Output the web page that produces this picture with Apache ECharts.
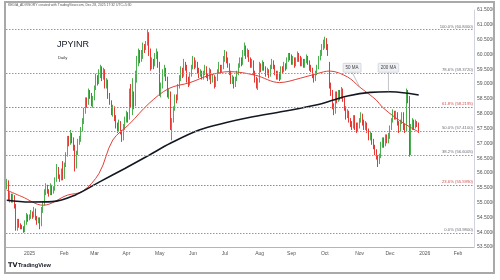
<!DOCTYPE html>
<html><head><meta charset="utf-8">
<script src="https://cdn.jsdelivr.net/npm/echarts@6/dist/echarts.min.js"></script>
<style>
html,body{margin:0;padding:0;background:#fff;}
#c{position:absolute;left:0;top:0;width:500px;height:280px;}
#frame{position:absolute;left:4px;top:1px;width:487px;height:269px;border:2px solid #a9a9a9;pointer-events:none;}
</style></head><body>
<div id="c"></div><div id="frame"></div>
<script>
// ---- categories: trading days (weekdays) from 11 Dec 2024 into Feb 2026 ----
const categories = [];
for (let t = Date.UTC(2024, 11, 11); categories.length < 309; t += 86400000) {
  const d = new Date(t), wd = d.getUTCDay();
  if (wd === 0 || wd === 6) continue;
  categories.push(d.toISOString().slice(0, 10));
}
const monthNames = ['Jan','Feb','Mar','Apr','May','Jun','Jul','Aug','Sep','Oct','Nov','Dec'];

// ---- daily candles [open, close, low, high] ----
const ohlc = [
[55.55,55.70,55.45,55.80],[55.70,55.15,55.05,55.75],[55.15,55.25,55.00,55.35],[55.25,55.10,55.00,55.30],[55.10,55.20,55.00,55.30],
[55.20,54.90,54.80,55.25],[54.90,54.15,54.05,54.95],[54.15,54.35,54.05,54.45],[54.35,54.25,54.15,54.45],[54.25,54.20,54.10,54.30],
[54.20,54.15,54.10,54.25],[54.15,54.05,53.98,54.20],[54.05,54.30,54.00,54.40],[54.30,54.55,54.25,54.65],[54.55,54.45,54.35,54.60],
// Jan 2025
[54.45,54.50,54.40,54.60],[54.50,54.65,54.45,54.75],[54.65,54.55,54.45,54.70],[54.55,54.75,54.50,54.85],[54.75,54.50,54.40,54.80],
[54.50,54.35,54.25,54.55],[54.35,54.40,54.30,54.50],[54.40,54.25,54.10,54.50],[54.25,54.70,54.20,54.85],[54.70,54.95,54.65,55.05],
[54.95,55.35,54.90,55.45],[55.35,55.55,55.25,55.65],[55.55,55.40,55.30,55.60],[55.40,55.30,55.20,55.45],[55.30,55.55,55.25,55.65],
[55.55,55.35,55.25,55.60],[55.35,55.45,55.30,55.55],[55.45,55.75,55.40,55.85],[55.75,56.15,55.70,56.30],[56.15,55.90,55.80,56.20],
[55.90,55.80,55.70,55.95],[55.80,56.05,55.75,56.15],[56.05,55.85,55.75,56.40],
// Feb
[55.85,56.25,55.80,56.35],[56.25,56.60,56.20,56.70],[56.60,57.15,56.55,57.25],[57.15,57.00,56.90,57.25],[57.00,57.30,56.95,57.45],
[57.30,57.10,57.00,57.35],[57.10,56.85,56.75,57.20],[56.85,56.20,56.05,56.95],[56.20,56.65,56.15,56.75],[56.65,57.05,56.60,57.15],
[57.05,57.15,56.95,57.25],[57.15,57.45,57.05,57.55],[57.45,57.70,57.40,57.85],[57.70,58.10,57.65,58.20],[58.10,58.45,58.00,58.55],
[58.45,58.35,58.20,58.55],[58.35,58.75,58.30,58.85],[58.75,58.65,58.50,58.80],[58.65,58.35,58.25,58.70],[58.35,58.50,58.20,58.60],
// Mar
[58.50,58.85,58.45,58.95],[58.85,59.20,58.80,59.35],[59.20,59.05,58.95,59.30],[59.05,59.35,59.00,59.50],[59.35,59.50,59.20,59.65],
[59.50,59.25,59.10,59.60],[59.25,59.45,59.15,59.55],[59.45,58.95,58.85,59.50],[58.95,59.10,58.85,59.20],[59.10,58.60,58.50,59.15],
[58.60,58.40,58.30,58.70],[58.40,58.05,57.95,58.45],[58.05,58.20,57.90,58.30],[58.20,57.85,57.75,58.25],[57.85,57.60,57.50,57.95],
[57.60,57.45,57.35,57.70],[57.45,57.70,57.40,57.80],[57.70,57.40,57.30,57.75],[57.40,57.15,57.05,57.45],[57.15,57.55,57.10,57.65],
[57.55,57.80,57.45,57.90],
// Apr
[57.80,57.95,57.70,58.10],[57.95,57.85,57.70,58.05],[57.85,58.65,57.80,58.85],[58.65,58.40,58.20,59.00],[58.40,58.55,57.95,59.20],
[58.55,58.35,58.15,58.75],[58.35,59.15,58.25,59.45],[59.15,59.75,59.05,59.95],[59.75,60.05,59.60,60.20],[60.05,59.85,59.70,60.15],
[59.85,60.00,59.75,60.15],[60.00,60.25,59.85,60.40],[60.25,60.20,60.05,60.35],[60.20,60.35,60.15,60.45],[60.35,60.65,60.30,60.84],
[60.65,60.10,59.95,60.75],[60.10,59.55,59.45,60.20],[59.55,59.80,59.50,59.90],[59.80,59.65,59.50,59.85],[59.65,59.95,59.60,60.05],
[59.95,60.05,59.85,60.20],[60.05,59.70,59.55,60.10],
// May
[59.70,58.75,58.60,59.75],[58.75,58.90,58.55,59.05],[58.90,59.35,58.85,59.50],[59.35,59.50,59.25,59.65],[59.50,59.20,59.10,59.55],
[59.20,58.65,58.55,59.25],[58.65,58.70,58.50,58.85],[58.70,57.55,57.45,58.75],[57.55,57.75,57.10,57.85],[57.75,58.15,57.70,58.25],
[58.15,58.55,58.10,58.65],[58.55,58.50,58.35,58.65],[58.50,58.90,58.45,59.00],[58.90,59.20,58.85,59.30],[59.20,59.45,59.10,59.60],
[59.45,59.30,59.20,59.55],[59.30,59.70,59.25,59.85],[59.70,59.60,59.45,59.75],[59.60,59.15,59.05,59.65],[59.15,59.00,58.90,59.25],
[59.00,59.30,58.95,59.40],[59.30,59.55,59.25,59.65],
// Jun
[59.55,59.85,59.50,59.95],[59.85,59.60,59.50,59.90],[59.60,59.70,59.55,59.80],[59.70,59.45,59.35,59.75],[59.45,59.30,59.20,59.55],
[59.30,59.40,59.25,59.50],[59.40,59.25,59.15,59.45],[59.25,59.35,59.15,59.45],[59.35,59.55,59.30,59.65],[59.55,59.30,59.20,59.60],
[59.30,59.20,59.10,59.35],[59.20,59.45,59.15,59.55],[59.45,59.10,59.00,59.50],[59.10,59.25,59.05,59.35],[59.25,58.95,58.85,59.30],
[58.95,59.15,58.90,59.25],[59.15,59.40,59.10,59.50],[59.40,59.60,59.35,59.75],[59.60,59.45,59.35,59.65],[59.45,59.55,59.40,59.65],
[59.55,59.85,59.50,59.95],
// Jul
[59.85,60.05,59.75,60.15],[60.05,59.80,59.70,60.10],[59.80,59.65,59.55,59.90],[59.65,59.40,59.30,59.70],[59.40,59.10,59.00,59.45],
[59.10,59.20,59.00,59.30],[59.20,58.95,58.85,59.25],[58.95,59.15,58.90,59.25],[59.15,59.35,59.10,59.45],[59.35,59.60,59.30,59.70],
[59.60,59.80,59.55,59.90],[59.80,59.70,59.60,59.90],[59.70,60.05,59.65,60.15],[60.05,60.25,59.95,60.40],[60.25,59.95,59.85,60.30],
[59.95,60.10,59.90,60.20],[60.10,59.85,59.75,60.15],[59.85,59.65,59.55,59.90],[59.65,59.75,59.55,59.85],[59.75,59.40,59.30,59.80],
[59.40,59.20,59.05,59.45],[59.20,58.95,58.85,59.25],[58.95,59.10,58.80,59.20],
// Aug
[59.10,59.65,59.05,59.75],[59.65,59.50,59.40,59.70],[59.50,59.70,59.45,59.80],[59.70,59.55,59.45,59.75],[59.55,59.35,59.25,59.60],
[59.35,59.45,59.30,59.55],[59.45,59.30,59.20,59.50],[59.30,59.55,59.25,59.65],[59.55,59.75,59.50,59.85],[59.75,59.60,59.50,59.80],
[59.60,59.40,59.30,59.65],[59.40,59.25,59.15,59.45],[59.25,59.35,59.15,59.45],[59.35,59.20,59.10,59.40],[59.20,59.50,59.15,59.60],
[59.50,59.45,59.35,59.60],[59.45,59.65,59.40,59.75],[59.65,59.55,59.45,59.70],[59.55,59.80,59.50,59.90],[59.80,59.95,59.75,60.05],
[59.95,59.90,59.80,60.05],
// Sep
[59.90,59.75,59.65,60.00],[59.75,59.85,59.65,59.95],[59.85,59.65,59.55,59.90],[59.65,59.80,59.60,59.90],[59.80,60.00,59.75,60.10],
[60.00,59.85,59.75,60.05],[59.85,59.70,59.60,59.95],[59.70,59.80,59.60,59.90],[59.80,59.65,59.55,59.85],[59.65,59.75,59.55,59.85],
[59.75,59.90,59.70,60.00],[59.90,59.75,59.65,59.95],[59.75,59.55,59.45,59.80],[59.55,59.50,59.40,59.65],[59.50,59.30,59.20,59.55],
[59.30,59.15,59.05,59.35],[59.15,59.35,59.10,59.45],[59.35,59.55,59.30,59.65],[59.55,59.85,59.50,59.95],[59.85,60.05,59.80,60.15],
[60.05,60.25,59.95,60.35],[60.25,60.35,60.15,60.50],
// Oct
[60.35,60.45,60.20,60.60],[60.45,60.25,60.15,60.55],[60.25,60.05,59.95,60.35],[59.70,58.95,58.85,59.75],[58.95,58.70,58.60,59.05],
[58.70,58.25,58.15,58.80],[58.25,58.05,57.95,58.35],[58.05,58.65,58.00,58.75],[58.65,58.45,58.35,58.75],[58.45,58.70,58.40,58.80],
[58.70,58.55,58.45,58.80],[58.55,58.75,58.50,58.90],[58.75,58.50,58.40,58.85],[58.50,58.20,58.10,58.55],[58.20,57.90,57.80,58.25],
[57.90,58.05,57.85,58.15],[58.05,57.80,57.70,58.10],[57.80,57.65,57.55,57.85],[57.65,57.55,57.45,57.75],[57.55,57.85,57.50,57.95],
[57.85,57.60,57.45,57.95],[57.60,57.45,57.35,57.70],[57.45,57.60,57.40,57.70],
// Nov
[57.60,57.75,57.50,57.85],[57.75,57.95,57.70,58.05],[57.95,57.70,57.60,58.00],[57.70,57.55,57.45,57.80],[57.55,57.65,57.45,57.75],
[57.65,57.45,57.35,57.70],[57.45,57.20,57.10,57.50],[57.20,57.30,57.10,57.40],[57.30,57.05,56.95,57.35],[57.05,56.90,56.80,57.15],
[56.90,56.70,56.60,56.95],[56.70,56.55,56.45,56.80],[56.55,56.35,56.20,56.60],[56.35,56.55,56.30,56.65],[56.55,56.95,56.50,57.05],
[56.95,57.10,56.85,57.20],[57.10,56.95,56.85,57.20],[56.95,57.20,56.90,57.30],[57.20,57.10,57.00,57.30],[57.10,57.25,57.00,57.35],
// Dec
[57.25,57.50,57.15,57.60],[57.50,57.75,57.45,57.85],[57.75,58.05,57.70,58.15],[58.05,57.90,57.80,58.10],[57.90,58.00,57.80,58.10],
[58.00,57.70,57.60,58.05],[57.70,57.45,57.35,57.75],[57.45,57.70,57.40,57.80],[57.70,57.95,57.65,58.05],[57.95,57.55,57.45,58.05],
[57.55,57.45,57.35,57.65],[57.45,58.70,57.40,58.85],[58.70,58.55,58.35,58.80],[58.55,56.70,56.55,58.60],[56.70,57.55,56.60,57.65],
[57.55,57.75,57.45,57.85],[57.75,57.60,57.45,57.80],[57.60,57.70,57.50,57.80],[57.70,57.65,57.55,57.75],[57.65,57.45,57.35,57.70]
];

// ---- moving averages: [category index, value] ----
const ma50 = [[0,55.42],[10,55.20],[24,54.91],[40,55.25],[50,55.38],[61,55.99],[70,57.11],[81,57.65],[94,58.35],[107,58.85],
  [121,59.05],[134,59.30],[147,59.42],[164,59.30],[180,59.05],[194,59.20],[209,59.41],[213,59.44],[225,59.24],[233,58.90],
  [244,58.46],[248,58.22],[256,57.89],[263,57.65],[272,57.38]];
const ma200 = [[0,55.08],[15,55.02],[30,55.03],[45,55.25],[61,55.69],[78,56.15],[94,56.60],[108,57.00],[127,57.45],[145,57.70],
  [160,57.87],[183,58.08],[205,58.30],[215,58.45],[225,58.60],[240,58.72],[253,58.74],[265,58.69],[272,58.63]];

// ---- Fibonacci retracement ----
const fibNames  = ['100.0%','78.6%','61.8%','50.0%','38.2%','23.6%','0.0%'];
const fibLevels = [60.8400, 59.3720, 58.2195, 57.4100, 56.6005, 55.5990, 53.9800];
const fibColors = ['#9598a1','#9598a1','#e06666','#9598a1','#9598a1','#e06666','#9598a1'];

// ---- price axis ----
const yMin = 53.5, yMax = 61.5, yStep = 0.5;

const UP = '#4caf50', DOWN = '#e53935', MA50C = '#e0413a', MA200C = '#131722';
const lastClose = ohlc[ohlc.length - 1][1];
const lastMa50 = ma50[ma50.length - 1][1];
const lastMa200 = ma200[ma200.length - 1][1];

function axisTag(v, bg, dy) {
  return { yAxis: v, lineStyle: { opacity: 0 },
    label: { show: true, position: 'end', distance: 1, formatter: v.toFixed(4), color: '#fff',
      backgroundColor: bg, padding: [1, 2, 1, 2], fontSize: 5, fontFamily: 'Liberation Sans', offset: [0, dy] } };
}

const chart = echarts.init(document.getElementById('c'), null, { renderer: 'canvas' });
chart.setOption({
  animation: false,
  backgroundColor: '#ffffff',
  grid: { left: 6, right: 26, top: 10, bottom: 33, containLabel: false },
  xAxis: {
    type: 'category', data: categories, boundaryGap: true,
    axisLine: { show: true, lineStyle: { color: '#b2b5be', width: 1 } },
    axisTick: { show: false },
    axisLabel: {
      color: '#555', fontSize: 5, fontFamily: 'Liberation Sans', margin: 4,
      interval: (i) => i > 0 && categories[i].slice(5, 7) !== categories[i - 1].slice(5, 7),
      formatter: (v) => { const m = +v.slice(5, 7); return m === 1 ? v.slice(0, 4) : monthNames[m - 1]; }
    },
    splitLine: { show: false }
  },
  yAxis: {
    type: 'value', position: 'right', min: yMin, max: yMax, interval: yStep, scale: true,
    axisLine: { show: true, lineStyle: { color: '#d1d4dc' } },
    axisTick: { show: false },
    axisLabel: { color: '#555', fontSize: 5, fontFamily: 'Liberation Sans', margin: 3, formatter: (v) => v.toFixed(4) },
    splitLine: { show: false }
  },
  series: [
    {
      type: 'candlestick', data: ohlc, barWidth: 1,
      itemStyle: { color: UP, color0: DOWN, borderColor: UP, borderColor0: DOWN, borderWidth: 1 },
      markLine: {
        silent: true, symbol: ['none', 'none'],
        data: fibLevels.map((v, i) => ({
          yAxis: v,
          lineStyle: { color: fibColors[i], type: [1.5, 1.5], width: 1 },
          label: { show: true, position: 'insideEndTop', distance: 1, fontSize: 4.2, fontFamily: 'Liberation Sans',
            color: fibColors[i] === '#9598a1' ? '#6a6d78' : '#d05050',
            formatter: fibNames[i] + ' (' + v.toFixed(4) + ')' }
        })).concat([axisTag(lastClose, '#f23645', -2)])
      }
    },
    {
      type: 'line', name: '50 MA', data: ma50, smooth: 0.35, showSymbol: false, symbol: 'none',
      lineStyle: { color: MA50C, width: 1 }, z: 3,
      markLine: { silent: true, symbol: ['none', 'none'], data: [axisTag(lastMa50, '#f23645', 3)] }
    },
    {
      type: 'line', name: '200 MA', data: ma200, smooth: 0.35, showSymbol: false, symbol: 'none',
      lineStyle: { color: MA200C, width: 1.6 }, z: 4,
      markLine: { silent: true, symbol: ['none', 'none'], data: [axisTag(lastMa200, '#131722', 0)] }
    }
  ]
});

// callouts for the moving averages, placed in data coordinates
function callout(label, boxAt, anchor) {
  const b = chart.convertToPixel({ xAxisIndex: 0, yAxisIndex: 0 }, boxAt);
  const a = chart.convertToPixel({ xAxisIndex: 0, yAxisIndex: 0 }, anchor);
  const w = label.length * 2.6 + 5, h = 9;
  return [
    { type: 'line', shape: { x1: b[0], y1: b[1] + h / 2, x2: a[0], y2: a[1] }, style: { stroke: '#9598a1', lineWidth: 0.6 }, z: 50 },
    { type: 'rect', shape: { x: b[0] - w / 2, y: b[1] - h / 2, width: w, height: h, r: 1 },
      style: { fill: '#eef0f4', stroke: '#c3c6ce', lineWidth: 0.6 }, z: 51 },
    { type: 'text', x: b[0], y: b[1], style: { text: label, fontSize: 4.5, fill: '#444', align: 'center', verticalAlign: 'middle', fontFamily: 'Liberation Sans' }, z: 52 }
  ];
}

chart.setOption({
  graphic: [
    { type: 'text', left: 8, top: 4, style: { text: 'KEDIA_ADVISORY created with TradingView.com, Dec 28, 2025 17:32 UTC+5:30', fontSize: 3.4, fill: '#555', fontFamily: 'Liberation Sans' } },
    { type: 'text', left: 57, top: 40, style: { text: 'JPYINR', fontSize: 9, fill: '#131722', fontFamily: 'Liberation Sans' } },
    { type: 'text', left: 58, top: 56, style: { text: 'Daily', fontSize: 4.2, fill: '#333', fontFamily: 'Liberation Sans' } },
    { type: 'text', left: 8, top: 262, style: { text: 'TV', fontSize: 6.5, fontWeight: 'bold', fill: '#131722', fontFamily: 'DejaVu Sans' } },
    { type: 'text', left: 18, top: 262.5, style: { text: 'TradingView', fontSize: 5.6, fontWeight: 'bold', fill: '#131722', fontFamily: 'Liberation Sans' } }
  ].concat(callout('50 MA', [228, 59.55], [233, 58.90]), callout('200 MA', [252, 59.55], [252, 58.74]))
});
</script>
</body></html>
